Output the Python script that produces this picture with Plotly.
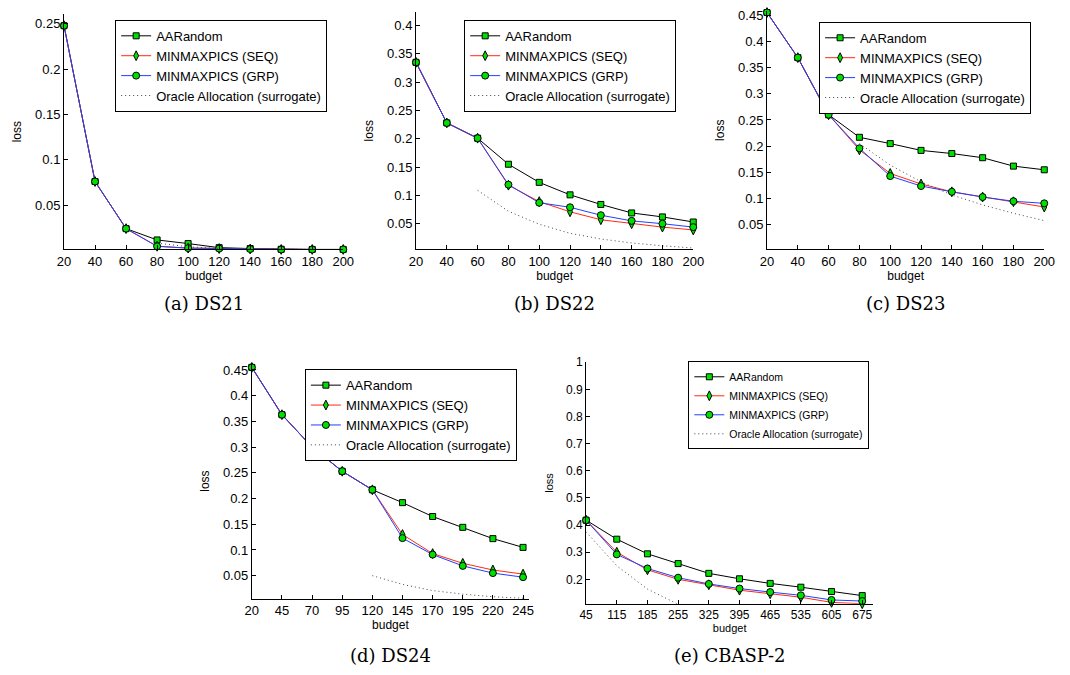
import plotly.graph_objects as go

# budgets per panel
budget_a = [20, 40, 60, 80, 100, 120, 140, 160, 180, 200]
budget_d = [20, 45, 70, 95, 120, 145, 170, 195, 220, 245]
budget_e = [45, 115, 185, 255, 325, 395, 465, 535, 605, 675]

# (a) DS21
ds21_rand = [0.248, 0.076, 0.024, 0.0115, 0.0075, 0.003, 0.002, 0.0012, 0.001, 0.001]
ds21_seq = [0.248, 0.076, 0.024, 0.0045, 0.0025, 0.002, 0.0015, 0.001, 0.001, 0.001]
ds21_grp = [0.248, 0.076, 0.024, 0.0045, 0.0025, 0.002, 0.0015, 0.001, 0.001, 0.001]
ds21_orc_x = [80, 100, 120, 140, 160, 180, 200]
ds21_orc = [0.008, 0.004, 0.002, 0.0015, 0.001, 0.001, 0.001]

# (b) DS22
ds22_rand = [0.335, 0.228, 0.201, 0.155, 0.123, 0.101, 0.084, 0.069, 0.062, 0.053]
ds22_seq = [0.335, 0.228, 0.201, 0.118, 0.089, 0.071, 0.057, 0.050, 0.044, 0.039]
ds22_grp = [0.335, 0.228, 0.201, 0.119, 0.087, 0.079, 0.065, 0.055, 0.050, 0.044]
ds22_orc_x = [60, 80, 100, 120, 140, 160, 180, 200]
ds22_orc = [0.109, 0.072, 0.049, 0.033, 0.023, 0.016, 0.011, 0.007]

# (c) DS23
ds23_rand = [0.455, 0.369, 0.260, 0.217, 0.205, 0.192, 0.186, 0.178, 0.162, 0.155]
ds23_seq = [0.455, 0.369, 0.260, 0.193, 0.148, 0.128, 0.113, 0.103, 0.094, 0.084]
ds23_grp = [0.455, 0.369, 0.260, 0.196, 0.143, 0.124, 0.113, 0.103, 0.095, 0.091]
ds23_orc_x = [80, 100, 120, 140, 160, 180, 200]
ds23_orc = [0.205, 0.164, 0.132, 0.107, 0.088, 0.072, 0.058]

# (d) DS24
ds24_rand = [0.455, 0.363, 0.300, 0.253, 0.217, 0.192, 0.165, 0.144, 0.122, 0.105]
ds24_seq = [0.455, 0.363, 0.300, 0.253, 0.217, 0.130, 0.093, 0.074, 0.061, 0.053]
ds24_grp = [0.455, 0.363, 0.300, 0.253, 0.217, 0.123, 0.091, 0.069, 0.055, 0.047]
ds24_orc_x = [120, 145, 170, 195, 220, 245]
ds24_orc = [0.050, 0.033, 0.021, 0.014, 0.009, 0.006]

# (e) CBASP-2
cb_rand = [0.418, 0.348, 0.294, 0.258, 0.222, 0.202, 0.185, 0.171, 0.155, 0.140]
cb_seq = [0.418, 0.300, 0.235, 0.200, 0.180, 0.160, 0.147, 0.134, 0.115, 0.110]
cb_grp = [0.418, 0.292, 0.240, 0.206, 0.183, 0.166, 0.153, 0.141, 0.124, 0.120]
cb_orc_x = [45, 115, 185, 255, 325]
cb_orc = [0.375, 0.250, 0.164, 0.108, 0.070]

names = ['AARandom', 'MINMAXPICS (SEQ)', 'MINMAXPICS (GRP)', 'Oracle Allocation (surrogate)']
GREEN = '#00e000'

panels = [
    dict(x=budget_a, r=ds21_rand, s=ds21_seq, g=ds21_grp, ox=ds21_orc_x, o=ds21_orc,
         xd=[58, 342], yd=[7, 245], xr=[20, 200], yr=[0.001, 0.261],
         yt=[0.05, 0.1, 0.15, 0.2, 0.25], lg=(110, 13), fs=13, cap='(a) DS21'),
    dict(x=budget_a, r=ds22_rand, s=ds22_seq, g=ds22_grp, ox=ds22_orc_x, o=ds22_orc,
         xd=[416, 698], yd=[5, 245], xr=[20, 200], yr=[0.0045, 0.424],
         yt=[0.05, 0.1, 0.15, 0.2, 0.25, 0.3, 0.35, 0.4], lg=(465, 13), fs=13, cap='(b) DS22'),
    dict(x=budget_a, r=ds23_rand, s=ds23_seq, g=ds23_grp, ox=ds23_orc_x, o=ds23_orc,
         xd=[773, 1055], yd=[4, 245], xr=[20, 200], yr=[0.003, 0.458],
         yt=[0.05, 0.1, 0.15, 0.2, 0.25, 0.3, 0.35, 0.4, 0.45], lg=(826, 15), fs=13, cap='(c) DS23'),
    dict(x=budget_d, r=ds24_rand, s=ds24_seq, g=ds24_grp, ox=ds24_orc_x, o=ds24_orc,
         xd=[249, 531], yd=[360, 598], xr=[20, 250], yr=[0.005, 0.463],
         yt=[0.05, 0.1, 0.15, 0.2, 0.25, 0.3, 0.35, 0.4, 0.45], lg=(303, 366), fs=13, cap='(d) DS24'),
    dict(x=budget_e, r=cb_rand, s=cb_seq, g=cb_grp, ox=cb_orc_x, o=cb_orc,
         xd=[589, 881], yd=[359, 603], xr=[45, 700], yr=[0.11, 1.0],
         yt=[0.2, 0.3, 0.4, 0.5, 0.6, 0.7, 0.8, 0.9, 1], lg=(693, 358), fs=10.5, cap='(e) CBASP-2'),
]

W, H = 1070, 675


def px_x(v):
    return min(1, max(0, v / W))


def px_y(v):
    return min(1, max(0, 1 - v / H))


fig = go.Figure()
layout = {}
annotations = []

for i, p in enumerate(panels):
    n = '' if i == 0 else str(i + 1)
    xa, ya, lg = 'x' + n, 'y' + n, 'legend' + n
    marker_line = dict(color='black', width=1)
    fig.add_trace(go.Scatter(x=p['x'], y=p['r'], name=names[0], xaxis=xa, yaxis=ya, legend=lg,
                             mode='lines+markers', line=dict(color='black', width=1), cliponaxis=False,
                             marker=dict(symbol='square', size=6, color=GREEN, line=marker_line)))
    fig.add_trace(go.Scatter(x=p['x'], y=p['s'], name=names[1], xaxis=xa, yaxis=ya, legend=lg,
                             mode='lines+markers', line=dict(color='#ff2a10', width=1), cliponaxis=False,
                             marker=dict(symbol='diamond-tall', size=7, color=GREEN, line=marker_line)))
    fig.add_trace(go.Scatter(x=p['x'], y=p['g'], name=names[2], xaxis=xa, yaxis=ya, legend=lg,
                             mode='lines+markers', line=dict(color='#2040ff', width=1), cliponaxis=False,
                             marker=dict(symbol='circle', size=7, color=GREEN, line=marker_line)))
    fig.add_trace(go.Scatter(x=p['ox'], y=p['o'], name=names[3], xaxis=xa, yaxis=ya, legend=lg,
                             mode='lines', line=dict(color='#444444', width=1, dash='1px,3px')))

    tfs = 13 if i < 4 else 12
    layout['xaxis' + n] = dict(
        domain=[px_x(p['xd'][0]), px_x(p['xd'][1])], anchor=ya, range=p['xr'], tickvals=p['x'],
        showline=True, linecolor='black', linewidth=1, ticks='inside', ticklen=4,
        tickcolor='black', showgrid=False, zeroline=False,
        tickfont=dict(size=tfs), title=dict(text='budget', font=dict(size=tfs - 1), standoff=2))
    layout['yaxis' + n] = dict(
        domain=[px_y(p['yd'][1]), px_y(p['yd'][0])], anchor=xa, range=p['yr'], tickvals=p['yt'],
        showline=True, linecolor='black', linewidth=1, ticks='inside', ticklen=4,
        tickcolor='black', showgrid=False, zeroline=False,
        tickfont=dict(size=tfs), title=dict(text='loss', font=dict(size=tfs - 1), standoff=10))
    layout[lg] = dict(
        x=px_x(p['lg'][0]), y=px_y(p['lg'][1]), xanchor='left', yanchor='top',
        xref='paper', yref='paper', bgcolor='white', bordercolor='black', borderwidth=1,
        font=dict(size=p['fs'], color='black'), tracegroupgap=0, itemwidth=30)
    cy = 300 if i < 3 else 655
    annotations.append(dict(
        text=p['cap'], x=px_x((p['xd'][0] + p['xd'][1]) / 2), y=px_y(cy),
        xref='paper', yref='paper', showarrow=False, xanchor='center', yanchor='middle',
        font=dict(family='DejaVu Serif', size=18, color='black')))

fig.update_layout(
    width=W, height=H, autosize=False,
    margin=dict(l=0, r=0, t=0, b=0),
    paper_bgcolor='white', plot_bgcolor='white',
    font=dict(family='Liberation Sans, Arial, sans-serif', color='black'),
    annotations=annotations,
    **layout)

# drop the browser's default 8px body margin so the figure fills the window
fig.write_html("out.html", config={'displayModeBar': False},
               post_script="document.body.style.margin = '0';")
